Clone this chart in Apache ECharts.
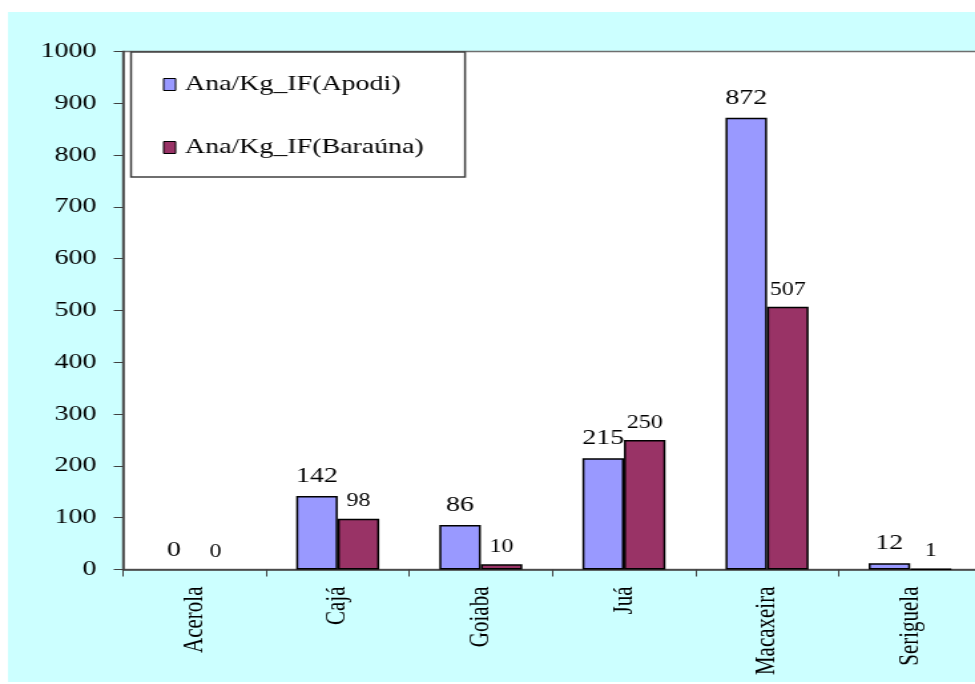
<!DOCTYPE html>
<html>
<head>
<meta charset="utf-8">
<script src="https://cdn.jsdelivr.net/npm/echarts@6/dist/echarts.min.js"></script>
<style>
  html, body { margin: 0; padding: 0; background: #ffffff; overflow: hidden; }
  /* The chart is laid out narrow and widened horizontally, like the original exported figure */
  #chart { width: 733px; height: 684px; transform: scaleX(1.3302); transform-origin: 0 0; }
</style>
</head>
<body>
<div id="chart"></div>
<script>
const categories = ['Acerola', 'Cajá', 'Goiaba', 'Juá', 'Macaxeira', 'Seriguela'];
const apodiValues = [0, 142, 86, 215, 872, 12];
const baraunaValues = [0, 98, 10, 250, 507, 1];
const seriesNames = ['Ana/Kg_IF(Apodi)', 'Ana/Kg_IF(Baraúna)'];
const yTicks = { min: 0, max: 1000, interval: 100 };

const serif = '"Liberation Serif", "Times New Roman", serif';

// Zero values get no visible outline, so an empty category stays empty.
function barData(values) {
  return values.map(v => v === 0 ? { value: v, itemStyle: { borderWidth: 0 } } : v);
}

const chart = echarts.init(document.getElementById('chart'), null, { renderer: 'canvas' });

chart.setOption({
  backgroundColor: '#ffffff',
  animation: false,
  textStyle: { fontFamily: serif },
  graphic: [{
    type: 'rect',
    z: -10,
    silent: true,
    shape: { x: 6, y: 12, width: 740, height: 670 },
    style: { fill: '#ccffff' }
  }],
  grid: {
    left: 92.5,
    right: -5,
    top: 51.5,
    bottom: 114.5,
    outerBoundsMode: 'none',
    show: true,
    backgroundColor: '#ffffff',
    borderColor: '#6e6e6e',
    borderWidth: 1.5
  },
  legend: {
    orient: 'vertical',
    left: 98.5,
    top: 52,
    padding: [22, 31, 19, 24],
    itemGap: 42,
    itemWidth: 9,
    itemHeight: 12,
    icon: 'rect',
    backgroundColor: '#ffffff',
    borderColor: '#404040',
    borderWidth: 1.5,
    textStyle: { fontFamily: serif, fontSize: 21, color: '#000000', padding: [0, 0, 0, 2] },
    itemStyle: { borderColor: '#000000', borderWidth: 1 },
    data: seriesNames
  },
  xAxis: {
    type: 'category',
    data: categories,
    axisLine: { lineStyle: { color: '#404040', width: 1.5 } },
    axisTick: { show: true, length: 7, lineStyle: { color: '#404040', width: 1 } },
    axisLabel: {
      rotate: 90,
      margin: 17,
      fontFamily: serif,
      fontSize: 21,
      color: '#000000'
    }
  },
  yAxis: {
    type: 'value',
    min: yTicks.min,
    max: yTicks.max,
    interval: yTicks.interval,
    splitLine: { show: false },
    axisLine: { show: true, lineStyle: { color: '#404040', width: 1.5 } },
    axisTick: { show: true, length: 7, lineStyle: { color: '#404040', width: 1 } },
    axisLabel: {
      margin: 20,
      fontFamily: serif,
      fontSize: 21,
      color: '#000000',
      formatter: v => String(v)
    }
  },
  series: [
    {
      name: seriesNames[0],
      type: 'bar',
      data: barData(apodiValues),
      barWidth: '29%',
      barGap: '0%',
      itemStyle: { color: '#9999ff', borderColor: '#000000', borderWidth: 1.5 },
      label: {
        show: true,
        position: 'top',
        distance: 9,
        fontFamily: serif,
        fontSize: 21,
        color: '#000000'
      }
    },
    {
      name: seriesNames[1],
      type: 'bar',
      data: barData(baraunaValues),
      barWidth: '29%',
      barGap: '0%',
      itemStyle: { color: '#993366', borderColor: '#000000', borderWidth: 1.5 },
      label: {
        show: true,
        position: 'top',
        distance: 8,
        fontFamily: serif,
        fontSize: 18,
        color: '#000000'
      }
    }
  ]
});
</script>
</body>
</html>
